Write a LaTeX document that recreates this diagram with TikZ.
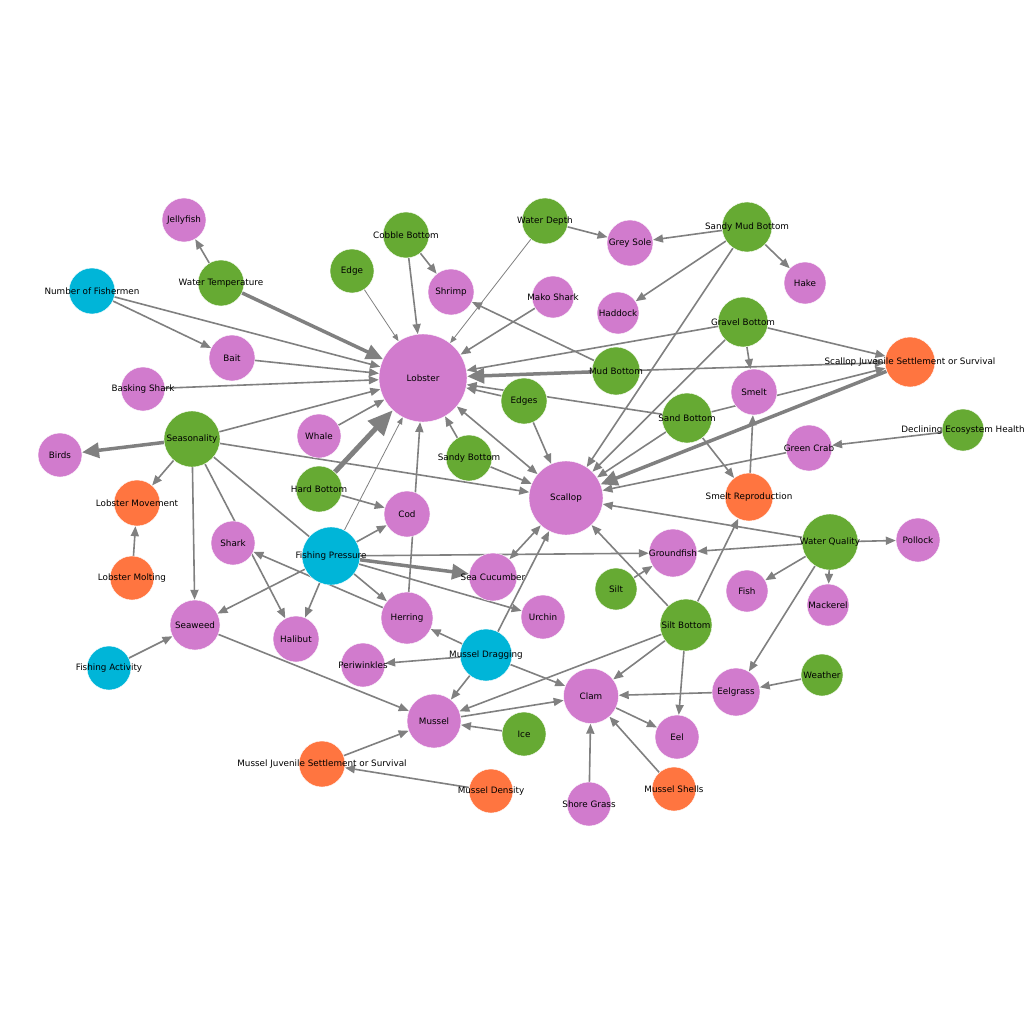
\documentclass[tikz,border=0pt]{standalone}
\usepackage{fontspec}
\newfontfamily\labfont{DejaVu Sans}
\usetikzlibrary{arrows.meta,backgrounds}
\definecolor{cpink}{RGB}{209,123,205}
\definecolor{cgreen}{RGB}{102,170,51}
\definecolor{ccyan}{RGB}{0,181,216}
\definecolor{corange}{RGB}{255,117,64}
\definecolor{cedge}{RGB}{128,128,128}
\tikzset{
  lab/.style={font=\labfont\fontsize{8.8}{10}\selectfont, text=black, inner sep=0pt},
  gn/.style={circle, inner sep=0pt, draw=white, line width=0.4pt, minimum size=#1},
  pk/.style={gn=#1, fill=cpink},
  gr/.style={gn=#1, fill=cgreen},
  cy/.style={gn=#1, fill=ccyan},
  og/.style={gn=#1, fill=corange},
  ed/.style={draw=cedge, line width=1.6pt, -{Triangle[length=10pt,width=8pt]}},
  edthin/.style={draw=cedge, line width=0.8pt, -{Triangle[length=7pt,width=5.5pt]}},
  edthk/.style={draw=cedge, line width=3.5pt, -{Triangle[length=17pt,width=15pt]}},
  edvthk/.style={draw=cedge, line width=5pt, -{Triangle[length=25pt,width=21pt]}},
  edboth/.style={draw=cedge, line width=1.6pt, {Triangle[length=10pt,width=8pt]}-{Triangle[length=10pt,width=8pt]}},
}
\begin{document}
\begin{tikzpicture}[x=1pt,y=-1pt]
\useasboundingbox (0,0) rectangle (1024,1024);
% nodes
\node[pk=44pt, label={[lab]center:Jellyfish}] (jelly) at (184,220) {};
\node[gr=46pt, label={[lab]center:Water Temperature}] (wtemp) at (221,283) {};
\node[cy=46pt, label={[lab]center:Number of Fishermen}] (numf) at (92,291) {};
\node[gr=46pt, label={[lab]center:Cobble Bottom}] (cobble) at (406,235) {};
\node[gr=44pt, label={[lab]center:Edge}] (edge) at (352,271) {};
\node[pk=46pt, label={[lab]center:Shrimp}] (shrimp) at (451,292) {};
\node[gr=46pt, label={[lab]center:Water Depth}] (wdepth) at (545,221) {};
\node[pk=46pt, label={[lab]center:Grey Sole}] (greysole) at (630,243) {};
\node[gr=50pt, label={[lab]center:Sandy Mud Bottom}] (sandymud) at (747,227) {};
\node[pk=42pt, label={[lab]center:Hake}] (hake) at (805,283) {};
\node[pk=42pt, label={[lab]center:Mako Shark}] (mako) at (553,297) {};
\node[pk=42pt, label={[lab]center:Haddock}] (haddock) at (618,313) {};
\node[gr=50pt, label={[lab]center:Gravel Bottom}] (gravel) at (743,322) {};
\node[og=50pt, label={[lab]center:Scallop Juvenile Settlement or Survival}] (sjuv) at (910,362) {};
\node[gr=48pt, label={[lab]center:Mud Bottom}] (mud) at (616,371) {};
\node[pk=88pt, label={[lab]center:Lobster}] (lobster) at (423,378) {};
\node[pk=46pt, label={[lab]center:Bait}] (bait) at (232,358) {};
\node[pk=44pt, label={[lab]center:Basking Shark}] (basking) at (143,389) {};
\node[gr=46pt, label={[lab]center:Edges}] (edges) at (524,401) {};
\node[pk=46pt, label={[lab]center:Smelt}] (smelt) at (754,392) {};
\node[gr=50pt, label={[lab]center:Sand Bottom}] (sand) at (687,418) {};
\node[gr=42pt, label={[lab]center:Declining Ecosystem Health}] (decl) at (963,430) {};
\node[pk=46pt, label={[lab]center:Green Crab}] (gcrab) at (809,448) {};
\node[gr=56pt, label={[lab]center:Seasonality}] (season) at (192,439) {};
\node[pk=44pt, label={[lab]center:Birds}] (birds) at (60,455) {};
\node[pk=44pt, label={[lab]center:Whale}] (whale) at (319,436) {};
\node[gr=46pt, label={[lab]center:Sandy Bottom}] (sandyb) at (469,458) {};
\node[gr=46pt, label={[lab]center:Hard Bottom}] (hardb) at (319,489) {};
\node[og=48pt, label={[lab]center:Smelt Reproduction}] (smeltrep) at (749,497) {};
\node[pk=74pt, label={[lab]center:Scallop}] (scallop) at (566,498) {};
\node[og=46pt, label={[lab]center:Lobster Movement}] (lmove) at (137,503) {};
\node[pk=46pt, label={[lab]center:Cod}] (cod) at (407,514) {};
\node[pk=44pt, label={[lab]center:Shark}] (shark) at (233,543) {};
\node[cy=58pt, label={[lab]center:Fishing Pressure}] (fp) at (331,556) {};
\node[pk=48pt, label={[lab]center:Groundfish}] (ground) at (673,553) {};
\node[gr=56pt, label={[lab]center:Water Quality}] (wq) at (830,542) {};
\node[pk=44pt, label={[lab]center:Pollock}] (pollock) at (918,540) {};
\node[pk=48pt, label={[lab]center:Sea Cucumber}] (seacuc) at (493,577) {};
\node[og=44pt, label={[lab]center:Lobster Molting}] (lmolt) at (132,578) {};
\node[gr=42pt, label={[lab]center:Silt}] (silt) at (616,589) {};
\node[pk=42pt, label={[lab]center:Fish}] (fish) at (747,591) {};
\node[pk=42pt, label={[lab]center:Mackerel}] (mackerel) at (828,605) {};
\node[pk=50pt, label={[lab]center:Seaweed}] (seaweed) at (195,625) {};
\node[pk=44pt, label={[lab]center:Urchin}] (urchin) at (543,617) {};
\node[pk=52pt, label={[lab]center:Herring}] (herring) at (407,618) {};
\node[pk=46pt, label={[lab]center:Halibut}] (halibut) at (296,639) {};
\node[gr=52pt, label={[lab]center:Silt Bottom}] (siltb) at (686,625) {};
\node[cy=52pt, label={[lab]center:Mussel Dragging}] (mdrag) at (486,655) {};
\node[pk=44pt, label={[lab]center:Periwinkles}] (peri) at (363,665) {};
\node[cy=44pt, label={[lab]center:Fishing Activity}] (fact) at (109,668) {};
\node[gr=42pt, label={[lab]center:Weather}] (weather) at (822,675) {};
\node[pk=55pt, label={[lab]center:Clam}] (clam) at (591,696) {};
\node[pk=48pt, label={[lab]center:Eelgrass}] (eelgrass) at (736,692) {};
\node[pk=54pt, label={[lab]center:Mussel}] (mussel) at (434,721) {};
\node[gr=44pt, label={[lab]center:Ice}] (ice) at (524,734) {};
\node[pk=44pt, label={[lab]center:Eel}] (eel) at (677,737) {};
\node[og=46pt, label={[lab]center:Mussel Juvenile Settlement or Survival}] (mjuv) at (322,764) {};
\node[og=44pt, label={[lab]center:Mussel Density}] (mdens) at (491,791) {};
\node[pk=44pt, label={[lab]center:Shore Grass}] (shore) at (589,804) {};
\node[og=44pt, label={[lab]center:Mussel Shells}] (mshells) at (674,789) {};
% edges
\begin{pgfonlayer}{background}
\fill[white] (0,0) rectangle (1024,1024);
\draw[ed] (wtemp) -- (jelly);
\draw[edthk] (wtemp) -- (lobster);
\draw[ed] (numf) -- (lobster);
\draw[ed] (numf) -- (bait);
\draw[ed] (bait) -- (lobster);
\draw[ed] (basking) -- (lobster);
\draw[ed] (cobble) -- (lobster);
\draw[ed] (cobble) -- (shrimp);
\draw[edthin] (edge) -- (lobster);
\draw[edthin] (wdepth) -- (lobster);
\draw[ed] (wdepth) -- (greysole);
\draw[ed] (sandymud) -- (greysole);
\draw[ed] (sandymud) -- (hake);
\draw[ed] (sandymud) -- (haddock);
\draw[ed] (sandymud) -- (scallop);
\draw[ed] (mako) -- (lobster);
\draw[ed] (mud) -- (shrimp);
\draw[edthk] (mud) -- (lobster);
\draw[ed] (mud) -- (sjuv);
\draw[ed] (gravel) -- (lobster);
\draw[ed] (gravel) -- (sjuv);
\draw[ed] (gravel) -- (smelt);
\draw[ed] (gravel) -- (scallop);
\draw[ed] (sand) -- (lobster);
\draw[ed] (sand) -- (sjuv);
\draw[ed] (sand) -- (scallop);
\draw[ed] (sand) -- (smeltrep);
\draw[ed] (edges) -- (lobster);
\draw[ed] (edges) -- (scallop);
\draw[edthk] (sjuv) -- (scallop);
\draw[ed] (decl) -- (gcrab);
\draw[ed] (gcrab) -- (scallop);
\draw[ed] (smeltrep) -- (smelt);
\draw[ed] (season) -- (lobster);
\draw[edthk] (season) -- (birds);
\draw[ed] (season) -- (lmove);
\draw[ed] (season) -- (scallop);
\draw[ed] (season) -- (seaweed);
\draw[ed] (season) -- (halibut);
\draw[ed] (season) -- (herring);
\draw[ed] (whale) -- (lobster);
\draw[ed] (sandyb) -- (lobster);
\draw[ed] (sandyb) -- (scallop);
\draw[edvthk] (hardb) -- (lobster);
\draw[ed] (hardb) -- (cod);
\draw[ed] (herring) -- (lobster);
\draw[edboth] (lobster) -- (scallop);
\draw[edthin] (fp) -- (lobster);
\draw[ed] (fp) -- (cod);
\draw[edthk] (fp) -- (seacuc);
\draw[ed] (fp) -- (urchin);
\draw[ed] (fp) -- (ground);
\draw[ed] (fp) -- (seaweed);
\draw[ed] (fp) -- (halibut);
\draw[ed] (herring) -- (shark);
\draw[ed] (lmolt) -- (lmove);
\draw[ed] (fact) -- (seaweed);
\draw[ed] (seaweed) -- (mussel);
\draw[edboth] (seacuc) -- (scallop);
\draw[ed] (mdrag) -- (scallop);
\draw[ed] (mdrag) -- (herring);
\draw[ed] (mdrag) -- (peri);
\draw[ed] (mdrag) -- (mussel);
\draw[ed] (mdrag) -- (clam);
\draw[ed] (siltb) -- (scallop);
\draw[ed] (siltb) -- (smeltrep);
\draw[ed] (siltb) -- (clam);
\draw[ed] (siltb) -- (mussel);
\draw[ed] (siltb) -- (eel);
\draw[ed] (silt) -- (ground);
\draw[ed] (wq) -- (scallop);
\draw[ed] (wq) -- (ground);
\draw[ed] (wq) -- (pollock);
\draw[ed] (wq) -- (fish);
\draw[ed] (wq) -- (mackerel);
\draw[ed] (wq) -- (eelgrass);
\draw[ed] (weather) -- (eelgrass);
\draw[ed] (eelgrass) -- (clam);
\draw[ed] (clam) -- (eel);
\draw[ed] (shore) -- (clam);
\draw[ed] (mshells) -- (clam);
\draw[ed] (mussel) -- (clam);
\draw[ed] (ice) -- (mussel);
\draw[ed] (mjuv) -- (mussel);
\draw[ed] (mdens) -- (mjuv);
\end{pgfonlayer}
\end{tikzpicture}
\end{document}
